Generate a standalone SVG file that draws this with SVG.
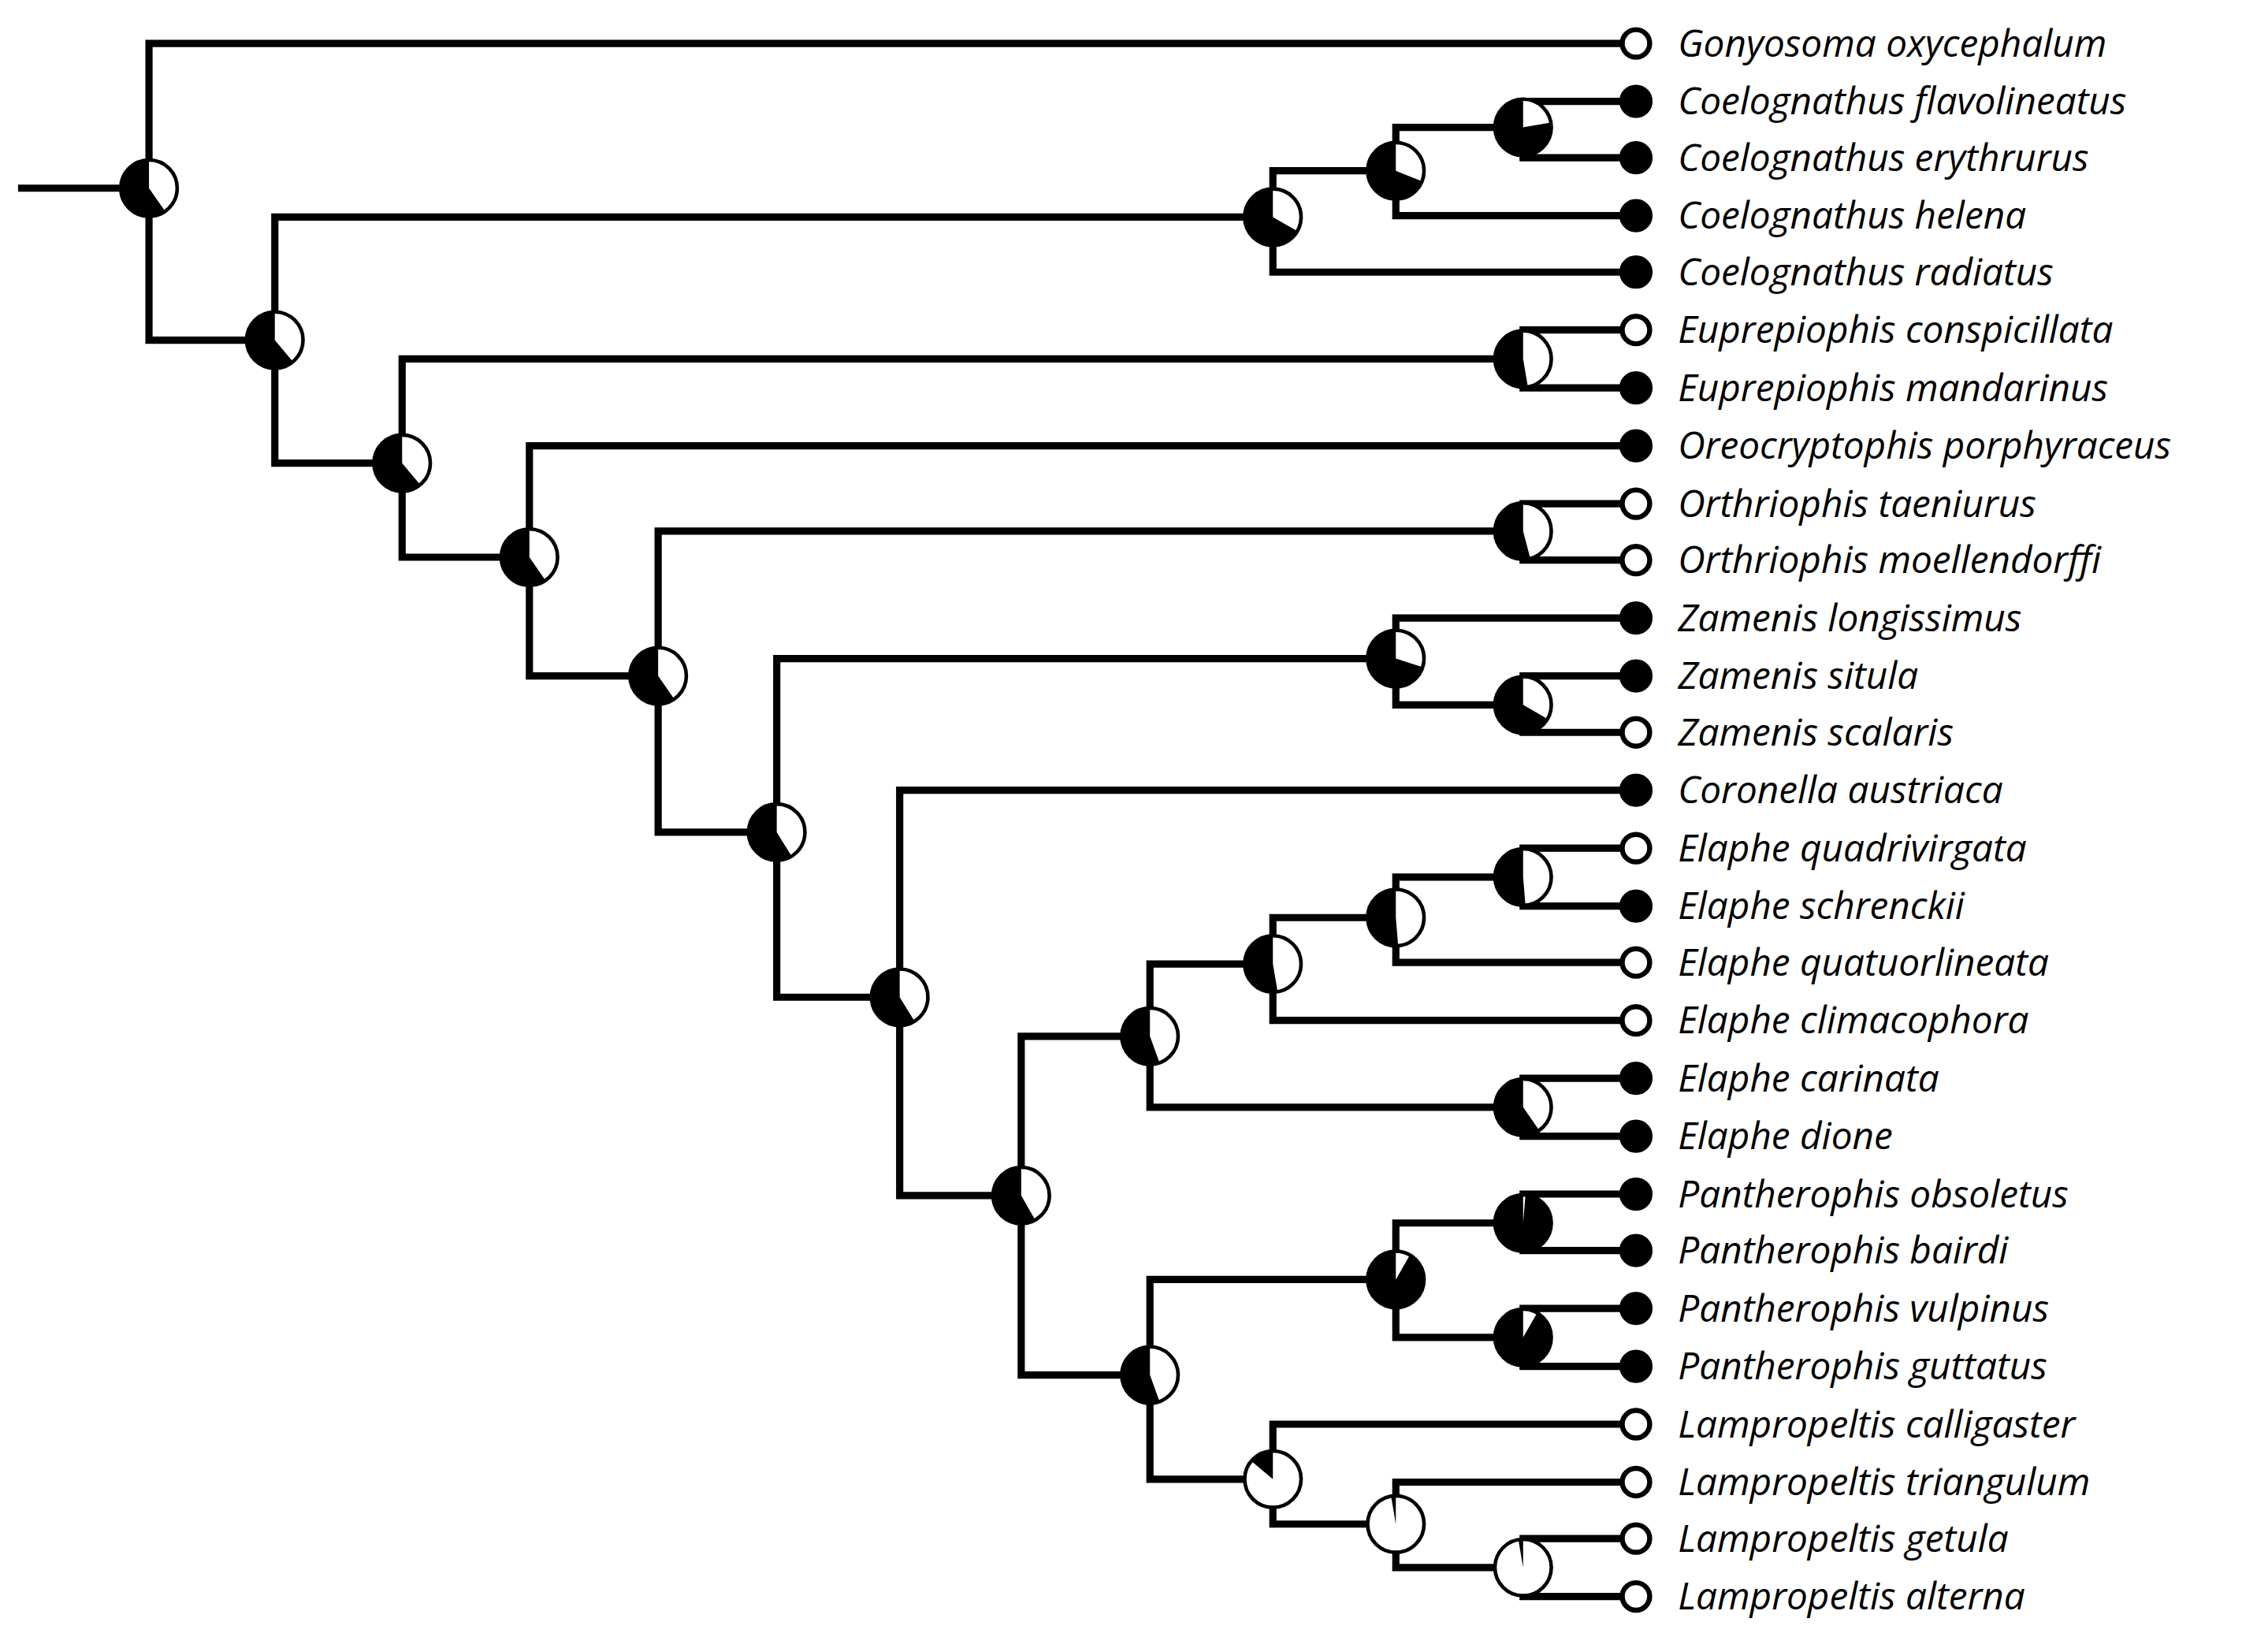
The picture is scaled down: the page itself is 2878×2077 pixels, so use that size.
<svg xmlns="http://www.w3.org/2000/svg" width="2878" height="2077" viewBox="0 0 2878 2077">
<style>
.br{fill:none;stroke:#000;stroke-width:5;stroke-linecap:square}
.pb{fill:#000}
.pw{fill:none;stroke:#fff;stroke-width:19.5}
.po{fill:none;stroke:#000;stroke-width:2.5}
.tb{fill:#000;stroke:#000;stroke-width:3}
.tw{fill:#fff;stroke:#000;stroke-width:3.5}
.lb{font-family:"Open Sans","Liberation Sans",sans-serif;font-style:italic;font-size:26px;fill:#000}
</style>
<rect width="2878" height="2077" fill="#fff"/>
<g transform="scale(1.8355 1.8364)">
<g id="connectors">
<path class="br" d="M103,30V235 M103,30H1131 M103,235H190 M15,130H103
M190,150V320 M190,150H880 M190,320H278
M880,118V188 M880,118H965 M880,188H1131
M965,88V149 M965,88H1053 M965,149H1131
M1053,70V109 M1053,70H1131 M1053,109H1131
M278,248V385 M278,248H1053 M278,385H366
M1053,228V268 M1053,228H1131 M1053,268H1131
M366,308V467 M366,308H1131 M366,467H455
M455,367V575 M455,367H1053 M455,575H537
M1053,348V387 M1053,348H1131 M1053,387H1131
M537,455V689 M537,455H965 M537,689H622
M965,427V487 M965,427H1131 M965,487H1053
M1053,467V506 M1053,467H1131 M1053,506H1131
M622,546V826 M622,546H1131 M622,826H706
M706,716V950 M706,716H795 M706,950H795
M795,666V765 M795,666H880 M795,765H1053
M880,634V705 M880,634H965 M880,705H1131
M965,606V665 M965,606H1053 M965,665H1131
M1053,586V626 M1053,586H1131 M1053,626H1131
M1053,745V785 M1053,745H1131 M1053,785H1131
M795,884V1022 M795,884H965 M795,1022H880
M965,845V924 M965,845H1053 M965,924H1053
M1053,825V864 M1053,825H1131 M1053,864H1131
M1053,904V944 M1053,904H1131 M1053,944H1131
M880,984V1053 M880,984H1131 M880,1053H965
M965,1024V1083 M965,1024H1131 M965,1083H1053
M1053,1063V1103 M1053,1063H1131 M1053,1103H1131"/>
</g>
<g id="node-root"><circle class="pb" cx="103" cy="130" r="19.5"/><circle class="pw" cx="103" cy="130" r="9.75" pathLength="360" stroke-dasharray="145 400" transform="rotate(-90 103 130)"/><circle class="po" cx="103" cy="130" r="19.5"/></g>
<g id="node-n2"><circle class="pb" cx="190" cy="235" r="19.5"/><circle class="pw" cx="190" cy="235" r="9.75" pathLength="360" stroke-dasharray="140 400" transform="rotate(-90 190 235)"/><circle class="po" cx="190" cy="235" r="19.5"/></g>
<g id="node-n3"><circle class="pb" cx="278" cy="320" r="19.5"/><circle class="pw" cx="278" cy="320" r="9.75" pathLength="360" stroke-dasharray="140 400" transform="rotate(-90 278 320)"/><circle class="po" cx="278" cy="320" r="19.5"/></g>
<g id="node-n4"><circle class="pb" cx="366" cy="385" r="19.5"/><circle class="pw" cx="366" cy="385" r="9.75" pathLength="360" stroke-dasharray="145 400" transform="rotate(-90 366 385)"/><circle class="po" cx="366" cy="385" r="19.5"/></g>
<g id="node-n5"><circle class="pb" cx="455" cy="467" r="19.5"/><circle class="pw" cx="455" cy="467" r="9.75" pathLength="360" stroke-dasharray="145 400" transform="rotate(-90 455 467)"/><circle class="po" cx="455" cy="467" r="19.5"/></g>
<g id="node-n6"><circle class="pb" cx="537" cy="575" r="19.5"/><circle class="pw" cx="537" cy="575" r="9.75" pathLength="360" stroke-dasharray="148 400" transform="rotate(-90 537 575)"/><circle class="po" cx="537" cy="575" r="19.5"/></g>
<g id="node-n7"><circle class="pb" cx="622" cy="689" r="19.5"/><circle class="pw" cx="622" cy="689" r="9.75" pathLength="360" stroke-dasharray="148 400" transform="rotate(-90 622 689)"/><circle class="po" cx="622" cy="689" r="19.5"/></g>
<g id="node-n8"><circle class="pb" cx="706" cy="826" r="19.5"/><circle class="pw" cx="706" cy="826" r="9.75" pathLength="360" stroke-dasharray="150 400" transform="rotate(-90 706 826)"/><circle class="po" cx="706" cy="826" r="19.5"/></g>
<g id="node-c1"><circle class="pb" cx="880" cy="150" r="19.5"/><circle class="pw" cx="880" cy="150" r="9.75" pathLength="360" stroke-dasharray="120 400" transform="rotate(-90 880 150)"/><circle class="po" cx="880" cy="150" r="19.5"/></g>
<g id="node-c2"><circle class="pb" cx="965" cy="118" r="19.5"/><circle class="pw" cx="965" cy="118" r="9.75" pathLength="360" stroke-dasharray="112 400" transform="rotate(-90 965 118)"/><circle class="po" cx="965" cy="118" r="19.5"/></g>
<g id="node-c3"><circle class="pb" cx="1053" cy="88" r="19.5"/><circle class="pw" cx="1053" cy="88" r="9.75" pathLength="360" stroke-dasharray="80 400" transform="rotate(-90 1053 88)"/><circle class="po" cx="1053" cy="88" r="19.5"/></g>
<g id="node-e"><circle class="pb" cx="1053" cy="248" r="19.5"/><circle class="pw" cx="1053" cy="248" r="9.75" pathLength="360" stroke-dasharray="170 400" transform="rotate(-90 1053 248)"/><circle class="po" cx="1053" cy="248" r="19.5"/></g>
<g id="node-o"><circle class="pb" cx="1053" cy="367" r="19.5"/><circle class="pw" cx="1053" cy="367" r="9.75" pathLength="360" stroke-dasharray="165 400" transform="rotate(-90 1053 367)"/><circle class="po" cx="1053" cy="367" r="19.5"/></g>
<g id="node-z1"><circle class="pb" cx="965" cy="455" r="19.5"/><circle class="pw" cx="965" cy="455" r="9.75" pathLength="360" stroke-dasharray="108 400" transform="rotate(-90 965 455)"/><circle class="po" cx="965" cy="455" r="19.5"/></g>
<g id="node-z2"><circle class="pb" cx="1053" cy="487" r="19.5"/><circle class="pw" cx="1053" cy="487" r="9.75" pathLength="360" stroke-dasharray="120 400" transform="rotate(-90 1053 487)"/><circle class="po" cx="1053" cy="487" r="19.5"/></g>
<g id="node-el"><circle class="pb" cx="795" cy="716" r="19.5"/><circle class="pw" cx="795" cy="716" r="9.75" pathLength="360" stroke-dasharray="160 400" transform="rotate(-90 795 716)"/><circle class="po" cx="795" cy="716" r="19.5"/></g>
<g id="node-e1"><circle class="pb" cx="880" cy="666" r="19.5"/><circle class="pw" cx="880" cy="666" r="9.75" pathLength="360" stroke-dasharray="170 400" transform="rotate(-90 880 666)"/><circle class="po" cx="880" cy="666" r="19.5"/></g>
<g id="node-e2"><circle class="pb" cx="965" cy="634" r="19.5"/><circle class="pw" cx="965" cy="634" r="9.75" pathLength="360" stroke-dasharray="175 400" transform="rotate(-90 965 634)"/><circle class="po" cx="965" cy="634" r="19.5"/></g>
<g id="node-e3"><circle class="pb" cx="1053" cy="606" r="19.5"/><circle class="pw" cx="1053" cy="606" r="9.75" pathLength="360" stroke-dasharray="175 400" transform="rotate(-90 1053 606)"/><circle class="po" cx="1053" cy="606" r="19.5"/></g>
<g id="node-ecd"><circle class="pb" cx="1053" cy="765" r="19.5"/><circle class="pw" cx="1053" cy="765" r="9.75" pathLength="360" stroke-dasharray="145 400" transform="rotate(-90 1053 765)"/><circle class="po" cx="1053" cy="765" r="19.5"/></g>
<g id="node-lp"><circle class="pb" cx="795" cy="950" r="19.5"/><circle class="pw" cx="795" cy="950" r="9.75" pathLength="360" stroke-dasharray="160 400" transform="rotate(-90 795 950)"/><circle class="po" cx="795" cy="950" r="19.5"/></g>
<g id="node-p1"><circle class="pb" cx="965" cy="884" r="19.5"/><circle class="pw" cx="965" cy="884" r="9.75" pathLength="360" stroke-dasharray="30 400" transform="rotate(-90 965 884)"/><circle class="po" cx="965" cy="884" r="19.5"/></g>
<g id="node-p2"><circle class="pb" cx="1053" cy="845" r="19.5"/><circle class="pw" cx="1053" cy="845" r="9.75" pathLength="360" stroke-dasharray="5 400" transform="rotate(-90 1053 845)"/><circle class="po" cx="1053" cy="845" r="19.5"/></g>
<g id="node-p3"><circle class="pb" cx="1053" cy="924" r="19.5"/><circle class="pw" cx="1053" cy="924" r="9.75" pathLength="360" stroke-dasharray="30 400" transform="rotate(-90 1053 924)"/><circle class="po" cx="1053" cy="924" r="19.5"/></g>
<g id="node-l1"><circle class="pb" cx="880" cy="1022" r="19.5"/><circle class="pw" cx="880" cy="1022" r="9.75" pathLength="360" stroke-dasharray="310 400" transform="rotate(-90 880 1022)"/><circle class="po" cx="880" cy="1022" r="19.5"/></g>
<g id="node-l2"><circle class="pb" cx="965" cy="1053" r="19.5"/><circle class="pw" cx="965" cy="1053" r="9.75" pathLength="360" stroke-dasharray="350 400" transform="rotate(-90 965 1053)"/><circle class="po" cx="965" cy="1053" r="19.5"/></g>
<g id="node-l3"><circle class="pb" cx="1053" cy="1083" r="19.5"/><circle class="pw" cx="1053" cy="1083" r="9.75" pathLength="360" stroke-dasharray="350 400" transform="rotate(-90 1053 1083)"/><circle class="po" cx="1053" cy="1083" r="19.5"/></g>
<g id="tip1"><circle class="tw" cx="1131" cy="30" r="9.5"/><text class="lb" x="1160" y="39">Gonyosoma oxycephalum</text></g>
<g id="tip2"><circle class="tb" cx="1131" cy="70" r="10"/><text class="lb" x="1160" y="79">Coelognathus flavolineatus</text></g>
<g id="tip3"><circle class="tb" cx="1131" cy="109" r="10"/><text class="lb" x="1160" y="118">Coelognathus erythrurus</text></g>
<g id="tip4"><circle class="tb" cx="1131" cy="149" r="10"/><text class="lb" x="1160" y="158">Coelognathus helena</text></g>
<g id="tip5"><circle class="tb" cx="1131" cy="188" r="10"/><text class="lb" x="1160" y="197">Coelognathus radiatus</text></g>
<g id="tip6"><circle class="tw" cx="1131" cy="228" r="9.5"/><text class="lb" x="1160" y="237">Euprepiophis conspicillata</text></g>
<g id="tip7"><circle class="tb" cx="1131" cy="268" r="10"/><text class="lb" x="1160" y="277">Euprepiophis mandarinus</text></g>
<g id="tip8"><circle class="tb" cx="1131" cy="308" r="10"/><text class="lb" x="1160" y="317">Oreocryptophis porphyraceus</text></g>
<g id="tip9"><circle class="tw" cx="1131" cy="348" r="9.5"/><text class="lb" x="1160" y="357">Orthriophis taeniurus</text></g>
<g id="tip10"><circle class="tw" cx="1131" cy="387" r="9.5"/><text class="lb" x="1160" y="396">Orthriophis moellendorffi</text></g>
<g id="tip11"><circle class="tb" cx="1131" cy="427" r="10"/><text class="lb" x="1160" y="436">Zamenis longissimus</text></g>
<g id="tip12"><circle class="tb" cx="1131" cy="467" r="10"/><text class="lb" x="1160" y="476">Zamenis situla</text></g>
<g id="tip13"><circle class="tw" cx="1131" cy="506" r="9.5"/><text class="lb" x="1160" y="515">Zamenis scalaris</text></g>
<g id="tip14"><circle class="tb" cx="1131" cy="546" r="10"/><text class="lb" x="1160" y="555">Coronella austriaca</text></g>
<g id="tip15"><circle class="tw" cx="1131" cy="586" r="9.5"/><text class="lb" x="1160" y="595">Elaphe quadrivirgata</text></g>
<g id="tip16"><circle class="tb" cx="1131" cy="626" r="10"/><text class="lb" x="1160" y="635">Elaphe schrenckii</text></g>
<g id="tip17"><circle class="tw" cx="1131" cy="665" r="9.5"/><text class="lb" x="1160" y="674">Elaphe quatuorlineata</text></g>
<g id="tip18"><circle class="tw" cx="1131" cy="705" r="9.5"/><text class="lb" x="1160" y="714">Elaphe climacophora</text></g>
<g id="tip19"><circle class="tb" cx="1131" cy="745" r="10"/><text class="lb" x="1160" y="754">Elaphe carinata</text></g>
<g id="tip20"><circle class="tb" cx="1131" cy="785" r="10"/><text class="lb" x="1160" y="794">Elaphe dione</text></g>
<g id="tip21"><circle class="tb" cx="1131" cy="825" r="10"/><text class="lb" x="1160" y="834">Pantherophis obsoletus</text></g>
<g id="tip22"><circle class="tb" cx="1131" cy="864" r="10"/><text class="lb" x="1160" y="873">Pantherophis bairdi</text></g>
<g id="tip23"><circle class="tb" cx="1131" cy="904" r="10"/><text class="lb" x="1160" y="913">Pantherophis vulpinus</text></g>
<g id="tip24"><circle class="tb" cx="1131" cy="944" r="10"/><text class="lb" x="1160" y="953">Pantherophis guttatus</text></g>
<g id="tip25"><circle class="tw" cx="1131" cy="984" r="9.5"/><text class="lb" x="1160" y="993">Lampropeltis calligaster</text></g>
<g id="tip26"><circle class="tw" cx="1131" cy="1024" r="9.5"/><text class="lb" x="1160" y="1033">Lampropeltis triangulum</text></g>
<g id="tip27"><circle class="tw" cx="1131" cy="1063" r="9.5"/><text class="lb" x="1160" y="1072">Lampropeltis getula</text></g>
<g id="tip28"><circle class="tw" cx="1131" cy="1103" r="9.5"/><text class="lb" x="1160" y="1112">Lampropeltis alterna</text></g>
</g>
</svg>
